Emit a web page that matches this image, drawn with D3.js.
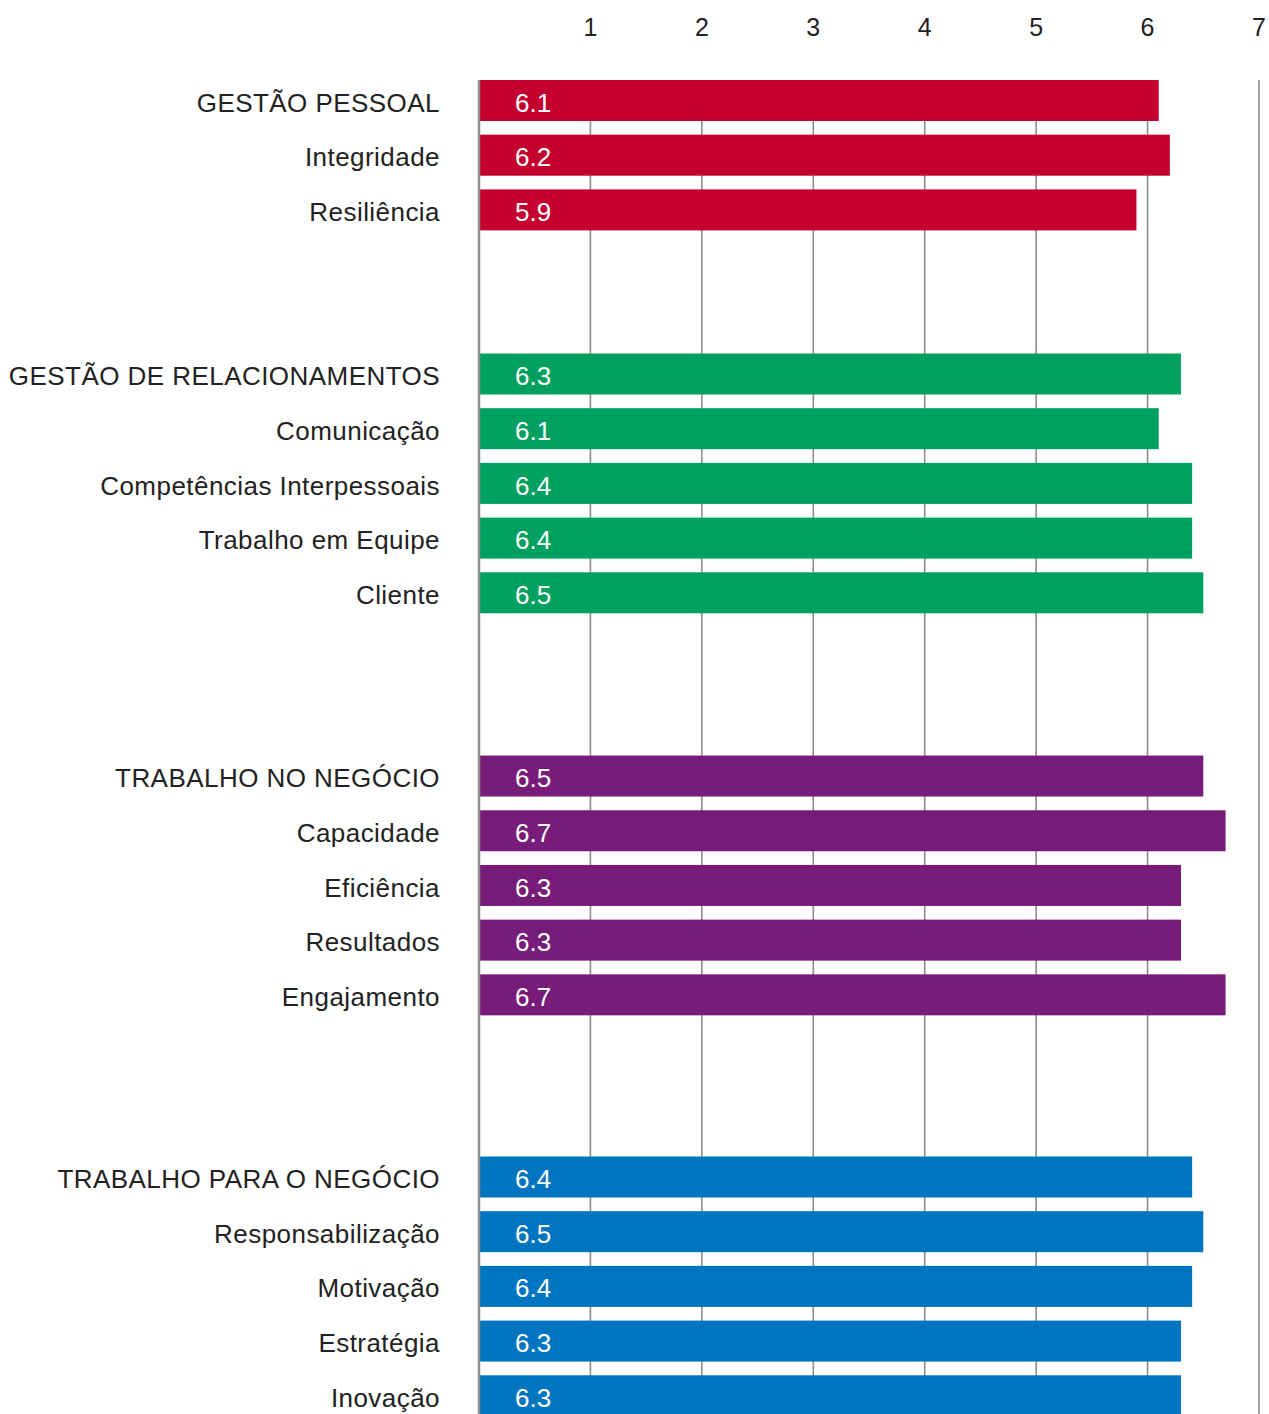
<!DOCTYPE html>
<html lang="pt">
<head>
<meta charset="UTF-8">
<title>Competências</title>
<script src="https://d3js.org/d3.v7.min.js"></script>
<style>
  body { margin: 0; background: #fff; }
  text { font-family: "Liberation Sans", Arial, sans-serif; }
</style>
</head>
<body>
<svg id="chart"></svg>
<script>
// data
let groups = ["GESTÃO PESSOAL", "GESTÃO DE RELACIONAMENTOS", "TRABALHO NO NEGÓCIO", "TRABALHO PARA O NEGÓCIO"];
let groupColors = ["#C4002F", "#00A160", "#771C79", "#0075BF"];
let labels = [
    ["GESTÃO PESSOAL", "Integridade", "Resiliência"],
    ["GESTÃO DE RELACIONAMENTOS", "Comunicação", "Competências Interpessoais", "Trabalho em Equipe", "Cliente"],
    ["TRABALHO NO NEGÓCIO", "Capacidade", "Eficiência", "Resultados", "Engajamento"],
    ["TRABALHO PARA O NEGÓCIO", "Responsabilização", "Motivação", "Estratégia", "Inovação"]
];
let values = [
    [6.1, 6.2, 5.9],
    [6.3, 6.1, 6.4, 6.4, 6.5],
    [6.5, 6.7, 6.3, 6.3, 6.7],
    [6.4, 6.5, 6.4, 6.3, 6.3]
];
let ticks = [1, 2, 3, 4, 5, 6, 7];

let width = 1269, height = 1414;
let svg = d3.select("#chart").attr("width", width).attr("height", height);

// extra empty rows before each group
let groupGap = [0, 2, 2.35, 2.33];

let rows = [];
let slot = 0;
labels.forEach((g, gi) => {
    slot += groupGap[gi];
    g.forEach((name, i) => {
        rows.push({ name: name, value: values[gi][i], group: gi, slot: slot });
        slot += 1;
    });
});

let x = d3.scaleLinear().domain([0, 7]).range([479, 1259]);
let pitch = 54.7;
let y = d3.scaleLinear().domain([0, 1]).range([80, 80 + pitch]);
let barH = 41;

// grid lines
svg.append("g")
    .selectAll("line")
    .data(ticks)
    .enter()
    .append("line")
    .attr("x1", d => x(d)).attr("x2", d => x(d))
    .attr("y1", 80).attr("y2", height)
    .attr("stroke", "#8c8c8c")
    .attr("stroke-width", 1.6);

// tick labels on top
svg.append("g")
    .selectAll("text")
    .data(ticks)
    .enter()
    .append("text")
    .attr("x", d => x(d))
    .attr("y", 27)
    .attr("dy", "0.35em")
    .attr("text-anchor", "middle")
    .attr("font-size", 25)
    .attr("fill", "#222")
    .text(d => d);

// bars
let bars = svg.append("g");
bars.selectAll("rect")
    .data(rows)
    .enter()
    .append("rect")
    .attr("x", x(0))
    .attr("y", d => y(d.slot))
    .attr("width", d => x(d.value) - x(0))
    .attr("height", barH)
    .attr("fill", d => groupColors[d.group]);

bars.selectAll("text.val")
    .data(rows)
    .enter()
    .append("text")
    .attr("class", "val")
    .attr("x", 515)
    .attr("y", d => y(d.slot) + barH / 2 + 2)
    .attr("dy", "0.35em")
    .attr("font-size", 26)
    .attr("fill", "#fff")
    .text(d => d.value.toFixed(1));

// category labels
svg.append("g")
    .selectAll("text")
    .data(rows)
    .enter()
    .append("text")
    .attr("x", 440)
    .attr("y", d => y(d.slot) + barH / 2 + 2)
    .attr("dy", "0.35em")
    .attr("text-anchor", "end")
    .attr("font-size", 26)
    .attr("letter-spacing", 0.45)
    .attr("fill", "#222")
    .text(d => d.name);

// left axis line
svg.append("line")
    .attr("x1", x(0)).attr("x2", x(0))
    .attr("y1", 80).attr("y2", height)
    .attr("stroke", "#8c8c8c")
    .attr("stroke-width", 2.5);
</script>
</body>
</html>
